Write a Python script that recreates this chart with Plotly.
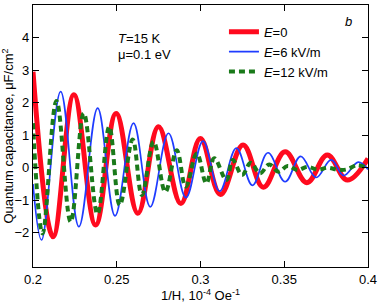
import plotly.graph_objects as go

# Extrema (1/H in 1e-4 Oe^-1, capacitance in uF/cm^2)
x_e0 = [0.2, 0.212, 0.2244, 0.2374, 0.2496, 0.2626, 0.2749, 0.2883, 0.2999,
        0.3119, 0.3254, 0.3375, 0.3505, 0.3635, 0.3757, 0.3877, 0.4]
y_e0 = [2.95, -2.12, 2.24, -1.76, 1.67, -1.40, 1.26, -1.10, 0.90,
        -0.82, 0.70, -0.60, 0.49, -0.46, 0.39, -0.38, 0.28]

x_e6 = [0.2, 0.2051, 0.2165, 0.2274, 0.2386, 0.249, 0.26, 0.27, 0.2809, 0.2913,
        0.3015, 0.3114, 0.3214, 0.331, 0.3403, 0.3505, 0.3598, 0.369, 0.378,
        0.3855, 0.3942, 0.4]
y_e6 = [-0.5, -2.22, 2.34, -1.81, 1.83, -1.48, 1.37, -1.2, 1.06, -0.92,
        0.82, -0.72, 0.60, -0.54, 0.46, -0.43, 0.35, -0.30, 0.24,
        -0.24, 0.17, -0.05]

x_e12 = [0.2, 0.2057, 0.214, 0.2225, 0.2303, 0.2385, 0.2455, 0.2518, 0.2595,
         0.265, 0.272, 0.279, 0.2858, 0.2912, 0.2978, 0.3035, 0.3082, 0.3155,
         0.3192, 0.3248, 0.33, 0.3355, 0.341, 0.3465, 0.352, 0.358, 0.364,
         0.370, 0.376, 0.382, 0.3875, 0.3937, 0.4]
y_e12 = [1.37, -2.02, 2.05, -1.66, 1.67, -1.42, 1.26, -1.15, 0.87,
         -0.84, 0.80, -0.74, 0.54, -0.58, 0.44, -0.48, 0.29, -0.38,
         0.24, -0.22, 0.15, -0.17, 0.10, -0.12, 0.05, -0.07, 0.03,
         -0.06, 0.0, -0.06, -0.05, 0.08, -0.03]

names = ["<i>E</i>=0", "<i>E</i>=6 kV/m", "<i>E</i>=12 kV/m"]

x_ticks = [0.2, 0.25, 0.3, 0.35, 0.4]
x_tick_labels = ["0.2", "0.25", "0.3", "0.35", "0.4"]
y_ticks = [-2, -1, 0, 1, 2, 3, 4]

FONT = "Arial, Liberation Sans, sans-serif"

fig = go.Figure()
fig.add_trace(go.Scatter(x=x_e0, y=y_e0, mode="lines", name=names[0],
                         line=dict(color="#ff0a1e", width=5, shape="spline", smoothing=1.1)))
fig.add_trace(go.Scatter(x=x_e6, y=y_e6, mode="lines", name=names[1],
                         line=dict(color="#1f3cff", width=1.7, shape="spline", smoothing=1.1)))
fig.add_trace(go.Scatter(x=x_e12, y=y_e12, mode="lines", name=names[2],
                         line=dict(color="#1a7a1a", width=4, dash="6px,4px",
                                   shape="spline", smoothing=1.1)))

axis_common = dict(showline=True, linecolor="black", linewidth=1.2, mirror="ticks",
                   ticks="inside", ticklen=6, tickwidth=1, tickcolor="black",
                   showgrid=False, zeroline=False, automargin=False,
                   tickfont=dict(family=FONT, size=13, color="black"))

fig.update_xaxes(range=[0.2, 0.4], tickvals=x_ticks, ticktext=x_tick_labels,
                 title=dict(text="1/H, 10<sup>-4</sup> Oe<sup>-1</sup>",
                            font=dict(family=FONT, size=13, color="black"), standoff=0),
                 **axis_common)
fig.update_yaxes(range=[-3.05, 5.0], tickvals=y_ticks,
                 title=dict(text="Quantum capacitance, μF/cm<sup>2</sup>",
                            font=dict(family=FONT, size=13, color="black"), standoff=0),
                 **axis_common)

fig.add_annotation(x=0.2496, y=3.96, xref="x", yref="y", text="<i>T</i>=15 K",
                   showarrow=False, xanchor="left", yanchor="middle",
                   font=dict(family=FONT, size=13, color="black"))
fig.add_annotation(x=0.2496, y=3.47, xref="x", yref="y", text="μ=0.1 eV",
                   showarrow=False, xanchor="left", yanchor="middle",
                   font=dict(family=FONT, size=13, color="black"))
fig.add_annotation(x=0.3885, y=4.5, xref="x", yref="y", text="<i>b</i>",
                   showarrow=False, xanchor="center", yanchor="middle",
                   font=dict(family=FONT, size=13, color="black"))

fig.update_layout(
    width=382, height=307,
    margin=dict(l=33, r=14, t=5, b=40),
    paper_bgcolor="white", plot_bgcolor="white",
    showlegend=True,
    legend=dict(x=0.57, y=0.955, xanchor="left", yanchor="top",
                bgcolor="rgba(0,0,0,0)", borderwidth=0,
                font=dict(family=FONT, size=13, color="black"),
                tracegroupgap=0, itemwidth=30),
)

fig.write_html("out.html", config={"displayModeBar": False},
               post_script="document.body.style.margin='0';document.body.style.padding='0';")
